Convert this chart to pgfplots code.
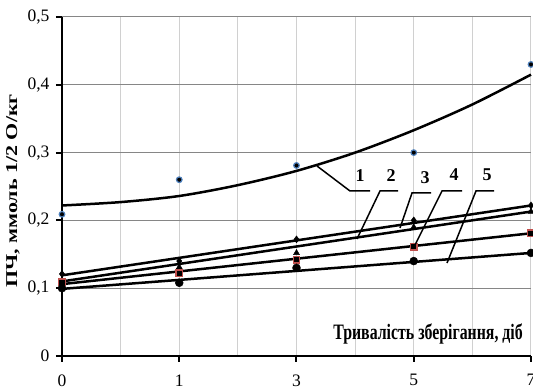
\documentclass[border=0pt]{standalone}
\usepackage{fontspec}
\setmainfont{Liberation Serif}
\usepackage{pgfplots}
\pgfplotsset{compat=1.18}
\usepackage{graphicx}
\newcommand\sq[1]{\scalebox{0.72}[1]{#1}}
\definecolor{gridH}{RGB}{134,134,134}
\definecolor{gridV}{RGB}{208,208,208}
\definecolor{xlblue}{RGB}{79,129,189}
\definecolor{xlred}{RGB}{192,80,77}
\begin{document}
\begin{tikzpicture}
\begin{axis}[
  at={(0,0)}, anchor=south west,
  scale only axis, width=469pt, height=339pt,
  xmin=0, xmax=4, ymin=0, ymax=0.5,
  clip=false,
  axis x line*=bottom, axis y line*=left,
  axis line style={black, line width=2.5pt},
  xtick={0,1,2,3,4},
  xticklabels={0,1,3,5,7},
  minor xtick={0.5,1.5,2.5,3.5},
  ytick={0,0.1,0.2,0.3,0.4,0.5},
  yticklabels={0,{0,1},{0,2},{0,3},{0,4},{0,5}},
  tick align=outside, major tick length=6pt, minor tick length=0pt,
  tick style={black, line width=2pt},
  ticklabel style={font=\fontsize{17.5}{20}\selectfont},
  xticklabel style={yshift=-9pt},
  yticklabel style={xshift=-3pt},
  xmajorgrids, xminorgrids, ymajorgrids,
  x grid style={gridV, line width=1pt},
  minor x grid style={gridV, line width=1pt},
  y grid style={gridH, line width=1pt},
]
% data points
\addplot[only marks, mark=*, mark size=2.8pt, mark options={draw=xlblue, fill=black, line width=1.2pt}]
  coordinates {(0,0.209) (1,0.260) (2,0.281) (3,0.300) (4,0.430)};
\addplot[only marks, mark=diamond*, mark size=3.5pt, mark options={fill=black, draw=black}]
  coordinates {(0,0.121) (1,0.140) (2,0.172) (3,0.200) (4,0.222)};
\addplot[only marks, mark=triangle*, mark size=3.5pt, mark options={fill=black, draw=black}]
  coordinates {(0,0.110) (1,0.131) (2,0.152) (3,0.190) (4,0.213)};
\addplot[only marks, mark=square*, mark size=3.2pt, mark options={fill=black, draw=xlred, line width=1.3pt}]
  coordinates {(0,0.109) (1,0.122) (2,0.142) (3,0.161) (4,0.181)};
\addplot[only marks, mark=*, mark size=4pt, mark options={fill=black, draw=black}]
  coordinates {(0,0.100) (1,0.108) (2,0.130) (3,0.140) (4,0.152)};
% trend lines
\addplot[black, line width=2.5pt, smooth, no marks]
  coordinates {(0,0.222) (0.5,0.227) (1,0.236) (1.5,0.252) (2,0.273) (2.5,0.300) (3,0.333) (3.5,0.371) (4,0.415)};
\addplot[black, line width=2.5pt, no marks] coordinates {(0,0.119) (4,0.222)};
\addplot[black, line width=2.5pt, no marks] coordinates {(0,0.110) (4,0.213)};
\addplot[black, line width=2.5pt, no marks] coordinates {(0,0.106) (4,0.181)};
\addplot[black, line width=2.5pt, no marks] coordinates {(0,0.099) (4,0.152)};
\end{axis}
% annotations in pixel-like coordinates
\begin{scope}[x=1pt, y=1pt, shift={(-62pt,356pt)}, yscale=-1]
  \node[anchor=base east, inner sep=0pt, font=\fontsize{22}{24}\selectfont\bfseries] at (523,340) {\sq{Тривалість зберігання, діб}};
  \node[rotate=90, inner sep=0pt, font=\fontsize{22}{24}\selectfont\bfseries] at (13,191) {\scalebox{1}[0.75]{ПЧ, ммоль 1/2 O/кг}};
  \draw[black, line width=1.5pt] (317,166) -- (350,191) -- (370,191);
  \draw[black, line width=1.5pt] (357,239) -- (380,191) -- (398,191);
  \draw[black, line width=1.5pt] (400,228) -- (412,193) -- (431,193);
  \draw[black, line width=1.5pt] (415,245) -- (442,191) -- (462,191);
  \draw[black, line width=1.5pt] (447,263) -- (476,191) -- (494,191);
  \begin{scope}[every node/.style={inner sep=0pt, font=\fontsize{18}{20}\selectfont\bfseries}]
  \node at (360,176) {1};
  \node at (391,176) {2};
  \node at (425,178) {3};
  \node at (454,175) {4};
  \node at (487,175) {5};
  \end{scope}
\end{scope}
\pgfresetboundingbox
\path (-62pt,-34pt) rectangle (471pt,356pt);
\end{tikzpicture}
\end{document}
